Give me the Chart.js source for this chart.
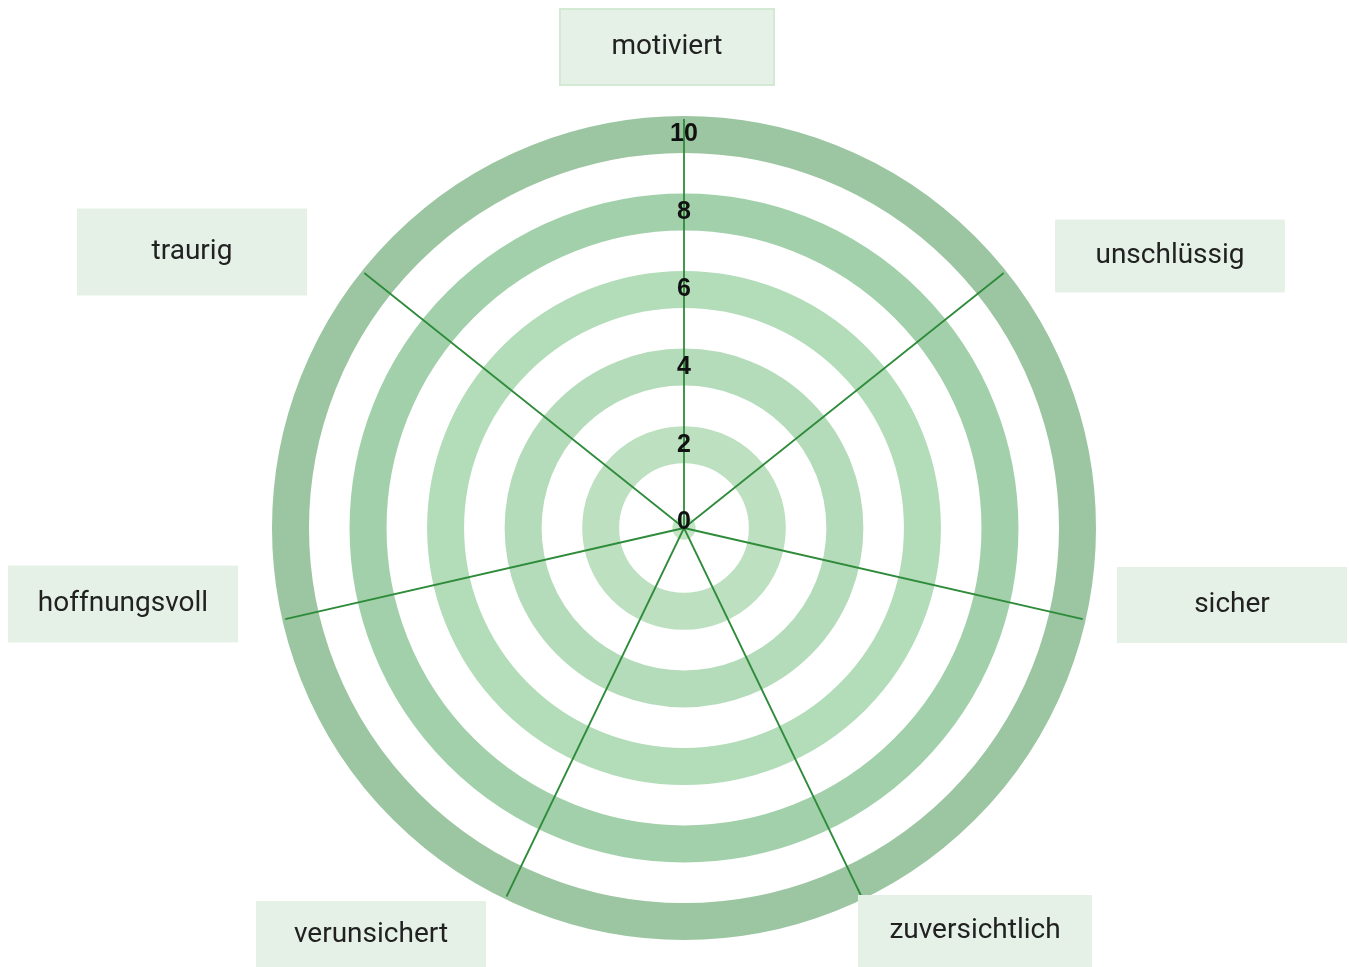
<!DOCTYPE html>
<html lang="de">
<head>
<meta charset="utf-8">
<title>Gefühle</title>
<script src="https://cdn.jsdelivr.net/npm/chart.js@4.4.1/dist/chart.umd.min.js"></script>
<style>
    html, body { margin: 0; padding: 0; background: #ffffff; }
    canvas { display: block; }
</style>
</head>
<body>
<canvas id="myChart" width="1349" height="967"></canvas>
<script>
// Achsen (im Uhrzeigersinn, oben beginnend)
const kategorien = ['motiviert', 'unschlüssig', 'sicher', 'zuversichtlich', 'verunsichert', 'hoffnungsvoll', 'traurig'];
// im Bild sind keine Werte eingetragen
const werte = [];
// Skala
const skalaMin = -0.15;
const skalaMax = 10.4;
const tickSchritt = 2;

// Ringfarben für 0, 2, 4, 6, 8, 10
const ringFarben = ['#c4e4c6', '#bde1c0', '#b5dcba', '#b3dcb9', '#a2d0aa', '#9cc6a1'];

// Beschriftungskästen: Versatz zur Mitte, Breite, Höhe
const kaesten = [
    { dx: -17, dy: -481, w: 214, h: 76, rand: '#d4e9d4' },
    { dx: 486, dy: -272, w: 230, h: 73 },
    { dx: 548, dy: 77, w: 230, h: 76 },
    { dx: 291, dy: 403, w: 234, h: 72 },
    { dx: -313, dy: 407, w: 230, h: 68 },
    { dx: -561, dy: 76, w: 230, h: 77 },
    { dx: -492, dy: -276, w: 230, h: 87 }
];

const labelBoxes = {
    id: 'labelBoxes',
    afterDraw(chart) {
        const scale = chart.scales.r;
        const ctx = chart.ctx;
        ctx.save();
        ctx.font = '28px Roboto';
        ctx.textAlign = 'center';
        ctx.textBaseline = 'middle';
        kategorien.forEach((name, i) => {
            const k = kaesten[i];
            const x = scale.xCenter + k.dx;
            const y = scale.yCenter + k.dy;
            ctx.fillStyle = '#e5f1e6';
            ctx.fillRect(x - k.w / 2, y - k.h / 2, k.w, k.h);
            if (k.rand) {
                ctx.strokeStyle = k.rand;
                ctx.lineWidth = 2;
                ctx.strokeRect(x - k.w / 2, y - k.h / 2, k.w, k.h);
            }
            ctx.fillStyle = '#212121';
            ctx.fillText(name, x, y);
        });
        ctx.restore();
    }
};

window.addEventListener('load', setup);
function setup() {
    const ctx = document.getElementById('myChart').getContext('2d');
    const myChart = new Chart(ctx, {
        type: 'radar',
        data: {
            labels: kategorien,
            datasets: [
                {
                    label: 'Gefühl',
                    data: werte,
                    borderColor: '#2e8b3a',
                    backgroundColor: 'rgba(46, 139, 58, 0.2)',
                    borderWidth: 2
                }
            ]
        },
        options: {
            responsive: false,
            animation: false,
            layout: { padding: { top: 104, bottom: 15, left: 20, right: 1 } },
            plugins: {
                legend: { display: false },
                tooltip: { enabled: false }
            },
            scales: {
                r: {
                    min: skalaMin,
                    max: skalaMax,
                    angleLines: { color: '#2e8b3a', lineWidth: 1.8 },
                    grid: {
                        circular: true,
                        // innerster Ring wird zur kleinen Scheibe
                        lineWidth: (c) => c.index === 0
                            ? 2 * c.chart.scales.r.getDistanceFromCenterForValue(0)
                            : 37,
                        color: (c) => ringFarben[c.index] || ringFarben[0]
                    },
                    pointLabels: { display: false },
                    ticks: {
                        stepSize: tickSchritt,
                        includeBounds: false,
                        showLabelBackdrop: false,
                        color: '#111111',
                        font: { family: 'Liberation Sans', size: 25, weight: 'bold' }
                    }
                }
            }
        },
        plugins: [labelBoxes]
    });
}
</script>
</body>
</html>
